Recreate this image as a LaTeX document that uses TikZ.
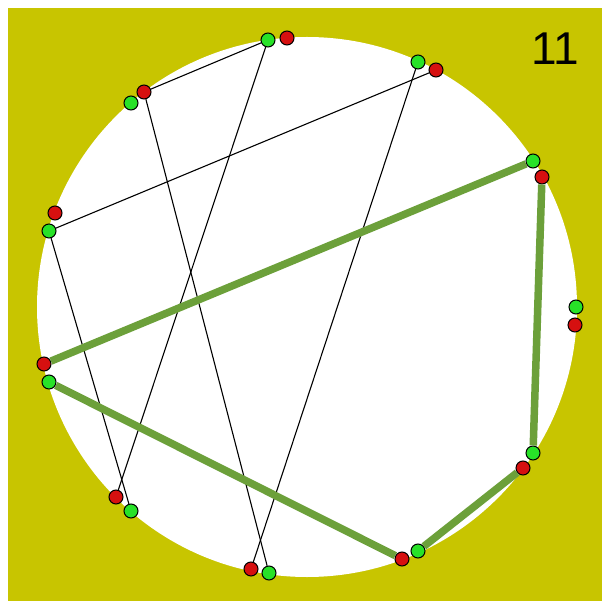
\documentclass[tikz,border=0pt]{standalone}
\usepackage{fontspec}
\setmainfont{Liberation Sans}
\usepackage{tikz}

\definecolor{bgolive}{RGB}{200,197,0}
\definecolor{dotred}{RGB}{214,16,16}
\definecolor{dotgreen}{RGB}{40,226,40}
\definecolor{pathgreen}{RGB}{108,160,58}

\tikzset{
  reddot/.style={circle, draw=black, line width=1pt, fill=dotred, minimum size=14pt, inner sep=0pt},
  greendot/.style={circle, draw=black, line width=1pt, fill=dotgreen, minimum size=14pt, inner sep=0pt},
  chord/.style={black, line width=1.1pt},
  route/.style={pathgreen, line width=7.5pt}
}

\begin{document}
\begin{tikzpicture}[x=1pt, y=-1pt]
  \useasboundingbox (0,0) rectangle (602,601);
  \fill[white] (0,0) rectangle (602,601);
  \fill[bgolive] (8,8) rectangle (602,601);
  \fill[white] (307,307) circle (270pt);

  % dots round the circle
  \node[greendot] (tG) at (268,40) {};
  \node[reddot] (tR) at (287,38) {};
  \node[greendot] (trG) at (418,62) {};
  \node[reddot] (trR) at (436,70) {};
  \node[greendot] (ruG) at (533,161) {};
  \node[reddot] (ruR) at (542,177) {};
  \node[greendot] (rmG) at (576,307) {};
  \node[reddot] (rmR) at (575,325) {};
  \node[greendot] (rlG) at (533,453) {};
  \node[reddot] (rlR) at (523,468) {};
  \node[greendot] (brG) at (418,551) {};
  \node[reddot] (brR) at (402,559) {};
  \node[greendot] (bG) at (269,573) {};
  \node[reddot] (bR) at (251,569) {};
  \node[greendot] (blG) at (131,511) {};
  \node[reddot] (blR) at (116,497) {};
  \node[greendot] (lG) at (49,382) {};
  \node[reddot] (lR) at (44,364) {};
  \node[greendot] (ulG) at (49,231) {};
  \node[reddot] (ulR) at (55,213) {};
  \node[greendot] (tlG) at (131,103) {};
  \node[reddot] (tlR) at (144,92) {};

  % thin chords
  \draw[chord] (tG) -- (tlR);
  \draw[chord] (tG) -- (blR);
  \draw[chord] (tlR) -- (bG);
  \draw[chord] (trG) -- (bR);
  \draw[chord] (trR) -- (ulG);
  \draw[chord] (ulG) -- (blG);

  % thick route
  \draw[route] (lR) -- (ruG);
  \draw[route] (ruR) -- (rlG);
  \draw[route] (rlR) -- (brG);
  \draw[route] (brR) -- (lG);

  \node[font=\fontsize{46}{52}\selectfont] (count) at (555,49) {11};
\end{tikzpicture}
\end{document}
